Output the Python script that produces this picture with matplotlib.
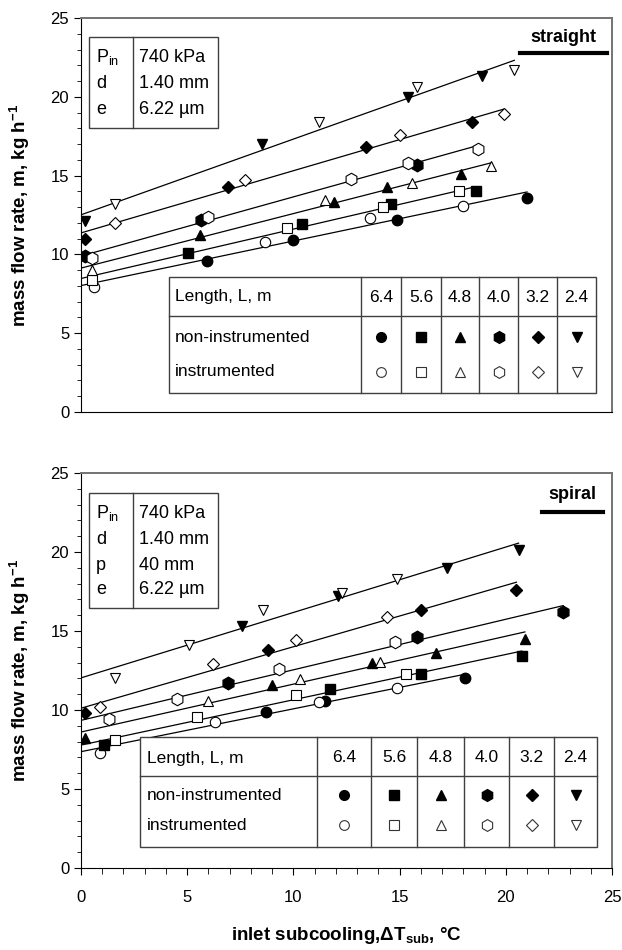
import numpy as np
import matplotlib

matplotlib.use("Agg")
import matplotlib.pyplot as plt
from matplotlib.lines import Line2D
from matplotlib.patches import Rectangle
from matplotlib.ticker import MultipleLocator

plt.rcParams["font.family"] = ["Liberation Sans", "DejaVu Sans"]
plt.rcParams["mathtext.fontset"] = "custom"
plt.rcParams["mathtext.rm"] = "Liberation Sans"
plt.rcParams["mathtext.it"] = "Liberation Sans"
plt.rcParams["mathtext.bf"] = "Liberation Sans:bold"

# tube lengths, m, and their markers
LENGTHS = ["6.4", "5.6", "4.8", "4.0", "3.2", "2.4"]
MARKERS = ["o", "s", "^", "h", "D", "v"]

# --- straight tube: (inlet subcooling degC, mass flow rate kg/h) -------------
ST_64_NON = [(5.95, 9.6), (10.0, 10.9), (14.9, 12.2), (21.0, 13.6)]
ST_64_INS = [(0.6, 7.9), (8.65, 10.8), (13.6, 12.3), (18.0, 13.1)]
ST_56_NON = [(5.05, 10.1), (10.4, 11.9), (14.6, 13.2), (18.6, 14.0)]
ST_56_INS = [(0.5, 8.4), (9.7, 11.65), (14.2, 13.0), (17.8, 14.0)]
ST_48_NON = [(5.6, 11.2), (11.9, 13.35), (14.4, 14.3), (17.9, 15.1)]
ST_48_INS = [(0.5, 9.0), (11.5, 13.45), (15.6, 14.5), (19.3, 15.6)]
ST_40_NON = [(0.2, 9.9), (5.65, 12.2), (15.8, 15.7)]
ST_40_INS = [(0.5, 9.8), (6.0, 12.4), (12.7, 14.8), (15.4, 15.8), (18.7, 16.7)]
ST_32_NON = [(0.2, 11.0), (6.9, 14.3), (13.4, 16.8), (18.4, 18.4)]
ST_32_INS = [(1.6, 12.0), (7.7, 14.7), (15.0, 17.6), (19.9, 18.9)]
ST_24_NON = [(0.2, 12.1), (8.5, 17.0), (15.4, 20.0), (18.9, 21.3)]
ST_24_INS = [(1.6, 13.2), (11.2, 18.4), (15.8, 20.6), (20.4, 21.7)]

# --- spiral tube -------------------------------------------------------------
SP_64_NON = [(8.7, 9.9), (11.5, 10.6), (18.1, 12.0)]
SP_64_INS = [(0.9, 7.3), (6.3, 9.25), (11.2, 10.5), (14.9, 11.4)]
SP_56_NON = [(1.1, 7.8), (11.7, 11.35), (16.0, 12.3), (20.75, 13.4)]
SP_56_INS = [(1.6, 8.1), (5.45, 9.55), (10.1, 10.95), (15.3, 12.3)]
SP_48_NON = [(0.2, 8.2), (9.0, 11.6), (13.7, 12.95), (16.7, 13.6), (20.9, 14.5)]
SP_48_INS = [(6.0, 10.55), (10.3, 11.95), (14.1, 13.05)]
SP_40_NON = [(6.9, 11.7), (15.8, 14.6), (22.7, 16.2)]
SP_40_INS = [(1.3, 9.4), (4.5, 10.7), (9.3, 12.6), (14.8, 14.3)]
SP_32_NON = [(0.2, 9.8), (8.8, 13.8), (16.0, 16.3), (20.5, 17.6)]
SP_32_INS = [(0.9, 10.2), (6.2, 12.9), (10.1, 14.4), (14.4, 15.9)]
SP_24_NON = [(7.6, 15.3), (12.1, 17.2), (17.25, 19.0), (20.6, 20.1)]
SP_24_INS = [(1.6, 12.0), (5.1, 14.1), (8.55, 16.3), (12.3, 17.4), (14.9, 18.3)]

STRAIGHT = [(ST_64_NON, ST_64_INS), (ST_56_NON, ST_56_INS), (ST_48_NON, ST_48_INS),
            (ST_40_NON, ST_40_INS), (ST_32_NON, ST_32_INS), (ST_24_NON, ST_24_INS)]
SPIRAL = [(SP_64_NON, SP_64_INS), (SP_56_NON, SP_56_INS), (SP_48_NON, SP_48_INS),
          (SP_40_NON, SP_40_INS), (SP_32_NON, SP_32_INS), (SP_24_NON, SP_24_INS)]

PARAMS_STRAIGHT = [(r"P$_{\mathrm{in}}$", "740 kPa"), ("d", "1.40 mm"), ("e", "6.22 µm")]
PARAMS_SPIRAL = [(r"P$_{\mathrm{in}}$", "740 kPa"), ("d", "1.40 mm"), ("p", "40 mm"),
                 ("e", "6.22 µm")]

W, H = 622, 950
FS = 12.5
MS = {"o": 7.5, "s": 7.0, "^": 7.5, "h": 9.0, "D": 6.5, "v": 7.5}


def fx(x):
    return x / W


def fy(y):
    return 1 - y / H


def hline(fig, x0, x1, y):
    fig.add_artist(Line2D([fx(x0), fx(x1)], [fy(y), fy(y)], transform=fig.transFigure,
                          color="0.25", lw=1.0))


def vline(fig, x, y0, y1):
    fig.add_artist(Line2D([fx(x), fx(x)], [fy(y0), fy(y1)], transform=fig.transFigure,
                          color="0.25", lw=1.0))


def box(fig, x0, x1, y0, y1):
    fig.add_artist(Rectangle((fx(x0), fy(y1)), fx(x1) - fx(x0), fy(y0) - fy(y1),
                             transform=fig.transFigure, facecolor="white",
                             edgecolor="0.25", lw=1.0))


def draw_panel(ax, groups, show_x):
    for (non, ins), mk in zip(groups, MARKERS):
        xn, yn = np.array(non).T
        xi, yi = np.array(ins).T
        xa = np.concatenate([xn, xi])
        ya = np.concatenate([yn, yi])
        k, b = np.polyfit(xa, ya, 1)
        xl = np.array([0.0, xa.max()])
        ax.plot(xl, k * xl + b, color="black", lw=0.9, zorder=2)
        ax.plot(xn, yn, mk, color="black", ms=MS[mk], zorder=3)
        ax.plot(xi, yi, mk, mfc="white", mec="black", mew=0.8, ms=MS[mk], zorder=3)

    ax.set_xlim(0, 25)
    ax.set_ylim(0, 25)
    ax.yaxis.set_major_locator(MultipleLocator(5))
    ax.yaxis.set_minor_locator(MultipleLocator(1))
    ax.xaxis.set_major_locator(MultipleLocator(5))
    ax.xaxis.set_minor_locator(MultipleLocator(1))
    ax.tick_params(axis="y", which="major", direction="out", length=5, labelsize=FS - 0.5)
    ax.tick_params(axis="y", which="minor", direction="out", length=3)
    if show_x:
        ax.tick_params(axis="x", which="major", direction="out", length=5,
                       labelsize=FS - 0.5, pad=11)
        ax.tick_params(axis="x", which="minor", direction="out", length=4)
    else:
        ax.tick_params(axis="x", which="both", bottom=False, labelbottom=False)
    for s in ("top", "right"):
        ax.spines[s].set_color("0.45")
        ax.spines[s].set_linewidth(1.4)
    ax.set_ylabel(r"mass flow rate, m, kg h$^{\mathbf{-1}}$", fontsize=FS + 1,
                  fontweight="bold")
    ax.yaxis.set_label_coords(-0.092, 0.5)


def draw_params(fig, rows, x0, x1, xd, y0, row_y):
    box(fig, x0, x1, y0[0], y0[1])
    vline(fig, xd, y0[0], y0[1])
    for (lab, val), y in zip(rows, row_y):
        fig.text(fx(x0 + 7), fy(y), lab, fontsize=FS + 0.5, va="center", ha="left")
        fig.text(fx(xd + 6), fy(y), val, fontsize=FS + 0.5, va="center", ha="left")


def draw_table(fig, cols, top, mid, bottom, text_x, head_y, row1_y, row2_y):
    box(fig, cols[0], cols[-1], top, bottom)
    hline(fig, cols[0], cols[-1], mid)
    for c in cols[1:-1]:
        vline(fig, c, top, bottom)
    fig.text(fx(text_x), fy(head_y), "Length, L, m", fontsize=FS, va="center")
    fig.text(fx(text_x), fy(row1_y), "non-instrumented", fontsize=FS, va="center")
    fig.text(fx(text_x), fy(row2_y), "instrumented", fontsize=FS, va="center")
    for i, (lab, mk) in enumerate(zip(LENGTHS, MARKERS)):
        cx = (cols[i + 1] + cols[i + 2]) / 2
        fig.text(fx(cx), fy(head_y), lab, fontsize=FS, va="center", ha="center")
        ms = MS[mk] - 0.5
        fig.add_artist(Line2D([fx(cx)], [fy(row1_y)], marker=mk, color="black", ms=ms,
                              ls="none", transform=fig.transFigure))
        fig.add_artist(Line2D([fx(cx)], [fy(row2_y)], marker=mk, mfc="white", mec="0.2",
                              mew=0.8, ms=ms, ls="none", transform=fig.transFigure))


fig = plt.figure(figsize=(W / 100, H / 100), dpi=100)
ax_top = fig.add_axes([fx(81), fy(412), (612 - 81) / W, (412 - 18) / H])
ax_bot = fig.add_axes([fx(81), fy(868), (612 - 81) / W, (868 - 473) / H])

draw_panel(ax_top, STRAIGHT, show_x=False)
draw_panel(ax_bot, SPIRAL, show_x=True)

# tube type tags
fig.text(fx(563), fy(37), "straight", fontsize=FS + 0.5, fontweight="bold",
         ha="center", va="center")
fig.add_artist(Line2D([fx(520), fx(607)], [fy(53), fy(53)], color="black", lw=3,
                      transform=fig.transFigure))
fig.text(fx(572), fy(495), "spiral", fontsize=FS + 0.5, fontweight="bold",
         ha="center", va="center")
fig.add_artist(Line2D([fx(542), fx(603)], [fy(512), fy(512)], color="black", lw=3,
                      transform=fig.transFigure))

draw_params(fig, PARAMS_STRAIGHT, 89, 218, 133, (37, 128), [57, 83, 109])
draw_params(fig, PARAMS_SPIRAL, 89, 218, 133, (493, 608), [513, 539, 565, 590])

draw_table(fig, [169, 361, 401, 441, 479, 518, 557, 596], 277, 316, 393,
           175, 297, 337, 372)
draw_table(fig, [140, 317, 371, 417, 464, 509, 554, 597], 737, 776, 847,
           147, 758, 795, 825)

fig.text(fx(346), fy(935), r"inlet subcooling,$\mathbf{\Delta T_{sub}}$, °C",
         fontsize=FS + 1, fontweight="bold", ha="center", va="center")

fig.savefig("out.png", dpi=100)
